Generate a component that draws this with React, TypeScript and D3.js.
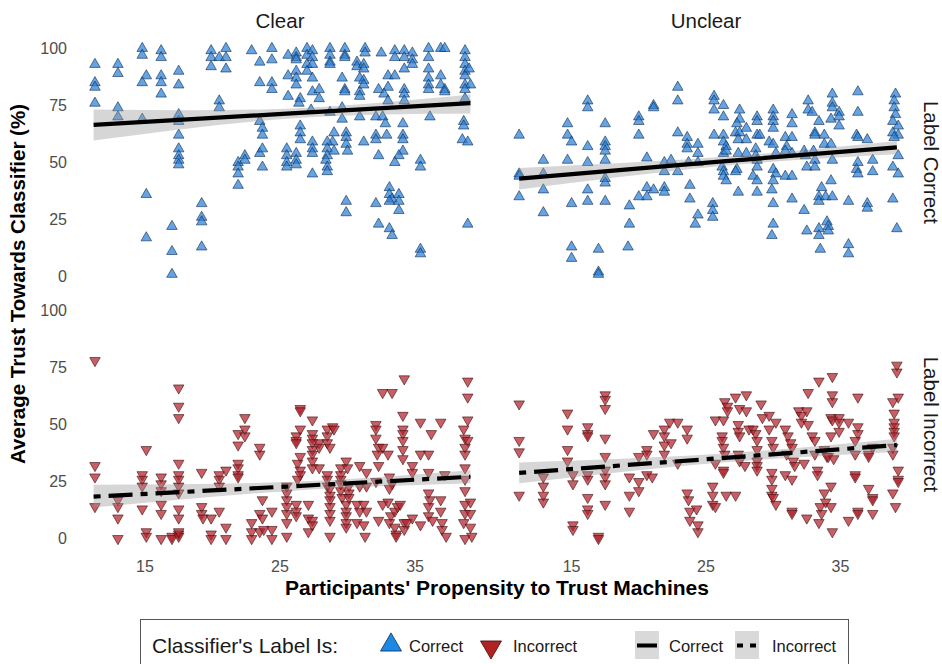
import { useRef, useEffect } from 'react';
import * as d3 from 'd3';

type Pt = [number, number];

// Panel data: [propensity, average trust %]
const clearCorrect: Pt[] = [
  [11.3,93],[11.3,85],[11.3,83],[11.3,76],
  [13.0,93],[13.0,89],[13.0,74],[13.0,70],
  [14.8,100],[14.8,97],[15.1,88],[14.8,85],[14.8,69],[15.1,36],[15.1,17],
  [16.2,99],[16.2,96],[16.2,88],[16.2,85],[16.2,80],
  [17.5,90],[17.5,84],[17.5,71],[17.5,68],[17.5,62],[17.5,56],[17.5,53],[17.5,51],[17.5,49],
  [17.0,22],[17.0,11],[17.0,1],
  [19.2,32],[19.2,26],[19.2,24],[19.2,13],
  [19.9,99],[19.9,96],[19.9,92],
  [20.5,96],[20.5,77],[20.5,74],
  [21.0,100],[21.0,96],[21.0,91],
  [21.9,50],[21.9,48],[21.9,45],[21.9,40],
  [22.4,53],[22.4,51],[22.9,99],
  [23.5,94],[23.5,85],[23.5,68],[23.5,54],
  [23.7,65],[23.7,62],[23.7,56],[23.7,48],
  [24.4,100],[24.4,95],[24.4,85],[24.4,82],
  [25.6,97],[26.2,98],[26.2,96],[26.2,95],[27.0,100],[27.0,97],[27.0,93],[27.4,99],[27.4,96],[27.4,93],
  [28.7,100],[28.7,97],[28.7,94],[28.7,93],
  [29.8,100],[29.8,97],[29.8,96],
  [31.3,100],[31.3,98],[30.7,94],[30.7,92],[31.2,93],[31.2,91],
  [32.5,98],[33.5,99],[33.5,96],
  [34.2,99],[34.2,96],[34.2,91],
  [34.8,98],[34.8,95],[34.8,93],
  [36.0,100],[36.0,96],[36.0,91],
  [36.9,100],[37.2,100],[36.9,88],[36.9,84],
  [36.0,87],[36.0,84],[36.0,82],[37.2,82],[37.2,81],
  [38.7,99],[38.7,96],[38.7,93],[38.7,90],[38.7,88],[38.7,84],[38.7,78],
  [39.0,91],[39.1,84],[38.7,82],
  [25.6,88],[25.6,79],[26.2,90],[26.2,87],[26.2,84],[26.5,78],[26.4,76],
  [27.0,90],[27.4,87],[27.4,81],[27.9,82],[27.9,78],
  [29.6,87],[29.8,82],[29.8,81],
  [30.9,87],[30.9,81],[31.2,86],[31.2,84],[30.9,79],
  [33.0,88],[33.5,88],[33.0,83],[32.3,82],[32.7,80],[33.0,77],
  [34.2,82],[34.2,80],[34.2,77],
  [27.3,73],[28.7,72],[29.6,74],[29.6,69],[30.9,70],[32.1,70],[32.6,70],[32.8,67],[34.1,67],[36.1,70],
  [26.5,66],[26.5,63],[26.5,60],[29.0,63],[28.9,59],
  [29.9,63],[29.9,61],[29.9,58],[30.0,55],[31.2,59],
  [32.1,62],[32.1,60],[32.9,62],[34.1,62],[34.1,60],
  [38.6,68],[38.6,66],[38.5,60],[38.9,59],
  [27.4,59],[27.4,56],[27.4,54],
  [28.5,59],[28.5,56],[28.5,53],[28.4,51],[28.5,48],[28.5,46],[29.0,55],
  [25.5,56],[25.5,53],[25.5,50],[25.5,48],
  [26.2,54],[26.2,51],[26.2,49],[27.4,45],[32.3,53],
  [34.1,55],[33.8,53],[33.5,50],[35.4,51],[35.4,48],
  [29.9,33],[29.9,28],[32.1,32],
  [33.1,39],[33.1,36],[33.3,34],[33.1,33],[33.8,36],[33.8,33],[33.8,29],
  [32.3,23],[33.1,21],[33.3,18],[35.4,12],[35.4,10],[38.9,23],
];

const unclearCorrect: Pt[] = [
  [11.1,62],[11.1,45],[11.1,44],[11.1,35],
  [12.9,51],[12.9,45],[12.9,38],[12.9,28],
  [14.7,67],[14.7,62],[15.0,59],[14.7,51],[15.0,32],[15.0,13],[15.0,8],
  [16.2,77],[16.2,74],[16.2,57],[16.2,50],[16.2,38],[16.2,33],
  [17.0,12],[17.0,2],[17.0,1],
  [17.5,67],[17.5,59],[17.5,57],[17.5,55],[17.5,51],[17.5,43],[17.5,41],[17.5,33],
  [19.3,31],[19.3,23],[19.2,13],
  [20.0,70],[20.0,68],[20.0,62],
  [20.6,52],[20.6,39],[20.6,35],[20.0,35],
  [21.1,75],[21.1,74],[21.1,38],
  [21.9,50],[21.9,46],[21.9,39],[21.9,37],[22.4,51],
  [22.9,83],[22.9,77],[22.9,63],[22.9,46],
  [23.6,61],[23.6,58],[23.6,56],[23.7,50],
  [23.8,40],[23.8,34],[24.2,23],
  [24.4,58],[24.4,54],[24.4,27],[24.4,50],
  [25.6,79],[25.6,77],[25.6,73],[25.6,62],[26.3,75],[26.3,70],[26.3,62],
  [26.3,59],[26.5,57],[26.3,54],[26.5,55],
  [26.2,48],[26.3,46],[26.3,44],[26.5,42],
  [25.5,32],[25.5,29],[25.5,26],[27.4,37],
  [27.5,73],[27.5,69],[27.3,67],
  [27.2,63],[27.5,63],[27.4,60],[28.0,65],[28.0,60],
  [27.4,54],[28.0,54],[27.3,47],[27.2,46],
  [28.8,70],[28.8,68],[28.8,62],[29.0,62],
  [28.7,56],[28.7,53],[28.8,51],[28.8,48],
  [28.5,44],[28.8,42],[28.8,37],
  [30.0,73],[30.0,70],[30.0,68],[30.0,65],
  [29.7,59],[30.0,58],[30.2,54],
  [30.0,47],[30.2,45],[30.0,42],[29.9,38],
  [30.0,32],[30.0,23],[29.9,18],
  [30.9,61],[31.0,57],[31.4,61],[30.9,55],[31.4,54],
  [30.9,44],[31.4,44],[31.4,71],[31.4,67],[31.4,34],
  [32.3,55],[32.4,53],[32.5,48],[32.3,29],[32.5,20],
  [32.6,77],[32.6,73],[32.9,72],
  [33.1,63],[33.1,62],[33.0,55],[33.1,51],[33.1,48],
  [33.4,68],[33.8,62],[33.8,58],[33.6,39],
  [33.4,35],[33.4,33],[33.9,35],[34.4,35],
  [33.4,21],[33.4,18],[33.5,12],
  [34.0,24],[34.1,22],[34.1,20],
  [34.4,80],[34.4,76],[34.4,74],
  [34.3,69],[34.9,72],[34.9,70],[34.9,66],
  [34.3,58],[34.4,51],[34.3,42],
  [35.6,33],[35.6,14],[35.6,10],
  [36.3,81],[36.3,72],
  [36.2,62],[36.3,61],[36.3,50],[36.2,47],[36.3,45],
  [37.0,60],[37.4,51],[37.4,46],[37.0,32],[37.0,30],
  [39.1,80],[39.0,77],[39.0,74],[39.1,71],[38.9,68],[39.3,66],[38.9,63],[39.3,62],[39.0,61],
  [39.3,53],[38.9,48],[39.3,45],[38.9,34],[39.2,21],
];

const clearIncorrect: Pt[] = [
  [11.3,78],[11.3,32],[11.3,27],[11.3,14],
  [13.0,17],[13.0,14],[13.0,9],[13.0,0],
  [15.1,39],[14.8,28],[14.8,26],[14.8,23],[14.8,13],[15.1,3],[15.1,1],
  [16.2,27],[16.2,24],[16.2,21],[16.2,15],[16.2,11],[16.2,0],[17.0,1],[17.0,0],[17.5,2],[17.5,1],
  [17.5,66],[17.5,58],[17.5,53],
  [17.5,33],[17.5,28],[17.5,26],[17.5,23],[17.5,20],[17.5,13],[17.5,9],[17.5,3],
  [19.2,29],[19.2,14],[19.2,11],[19.3,9],
  [19.9,9],[19.9,2],[19.9,0],
  [20.5,28],[20.5,26],[20.5,23],[21.0,30],[20.5,12],[21.0,5],[21.0,0],
  [21.9,46],[22.4,48],[22.4,45],[21.9,41],[22.4,53],
  [21.9,33],[21.9,31],[21.9,28],[21.9,27],
  [23.5,40],[23.5,37],[23.7,17],
  [22.9,7],[22.9,3],[22.9,0],[23.5,11],[23.5,3],[23.7,9],[23.8,4],[24.4,12],[24.4,4],[24.4,0],
  [26.5,57],[26.5,56],[27.4,52],
  [26.2,45],[26.2,43],[26.2,42],[26.5,48],
  [27.4,46],[27.4,44],[27.4,42],[27.9,42],[27.9,40],
  [28.5,48],[28.5,45],[28.9,49],[29.0,48],[28.5,42],[28.7,40],
  [26.5,36],[26.3,33],[26.5,30],[26.5,28],[26.3,26],
  [27.4,39],[27.4,37],[27.4,34],[27.4,31],[27.9,31],
  [28.5,28],[28.5,26],[28.5,23],
  [25.5,23],[25.5,20],[25.5,17],[25.5,14],[25.5,11],[25.5,7],[25.5,1],
  [26.2,15],[26.2,12],[26.2,10],
  [27.1,15],[27.1,9],[27.1,3],[27.4,8],[27.4,6],
  [28.7,22],[28.7,19],[28.7,17],[28.7,14],[28.7,11],[28.7,8],[28.7,1],
  [29.5,31],[29.5,28],[29.5,26],[29.9,34],[30.0,31],
  [29.5,21],[29.6,18],[29.9,15],[29.9,12],[29.9,10],[29.9,7],[29.9,5],
  [29.5,24],[30.1,23],[30.1,20],[30.1,18],
  [30.9,32],[31.4,29],[30.9,23],[31.4,23],
  [30.7,15],[30.9,12],[31.2,15],[31.4,12],[30.7,7],[31.2,6],[31.3,1],
  [32.1,50],[32.1,48],[32.1,44],[32.3,40],[32.6,40],[32.2,37],[33.0,37],[32.3,32],
  [32.6,64],[33.3,64],
  [32.1,25],[33.1,27],[33.3,24],[33.1,22],
  [32.6,15],[33.0,16],[33.2,10],[33.5,12],[33.7,14],[33.9,15],
  [32.3,8],[33.1,7],[33.5,5],[33.6,2],[33.6,1],[34.2,7],[34.2,4],[34.4,7],[34.8,9],
  [34.2,70],[34.1,54],[34.1,48],[34.1,46],[34.1,43],
  [34.1,39],[34.1,35],[34.8,32],[34.8,29],
  [35.4,51],[36.2,46],[35.4,37],[36.0,37],[36.9,51],
  [36.0,29],[36.0,20],[36.1,17],[36.0,14],[36.0,10],[36.3,8],[35.4,6],
  [36.9,17],[36.9,12],[37.0,7],[37.0,4],[37.3,1],[37.2,28],
  [38.9,69],[38.9,62],[38.9,52],[38.6,48],[38.7,44],[38.9,43],[38.7,40],[38.7,37],[38.7,31],
  [38.7,26],[38.7,21],[38.7,15],[38.7,11],[38.6,7],[39.1,16],[39.1,11],[39.1,5],[38.7,0],[39.2,1],
];

const unclearIncorrect: Pt[] = [
  [11.1,59],[11.1,43],[11.1,38],[11.1,19],
  [12.9,27],[12.9,23],[12.9,19],[12.9,16],
  [14.7,55],[14.7,48],[14.7,39],[14.7,34],[15.1,28],[15.1,24],[15.1,6],[15.1,4],
  [16.2,49],[16.2,46],[16.2,45],[16.2,28],[16.2,26],[16.2,18],[16.2,13],[16.2,11],
  [17.0,1],[17.0,0],
  [17.5,63],[17.5,61],[17.5,57],[17.5,44],[17.5,36],[17.5,30],[17.5,27],[17.5,24],[17.5,15],
  [19.3,27],[19.3,19],[19.3,12],
  [20.0,36],[20.0,25],[20.0,21],
  [20.6,39],[20.6,37],[20.6,28],[21.0,27],[21.1,46],
  [21.9,48],[22.3,51],[22.9,51],[21.9,45],[21.9,41],[22.4,42],[21.9,37],
  [23.6,48],[23.6,44],[22.9,33],
  [23.6,20],[23.7,17],[23.8,12],[23.8,8],[24.3,13],[24.4,6],[24.4,3],
  [25.5,23],[25.5,19],[25.5,15],[25.7,14],
  [25.7,52],[26.3,52],[26.2,45],[26.2,43],[26.3,40],[26.4,37],
  [26.4,60],[26.6,58],[26.6,56],[27.2,62],[27.5,57],[28.0,63],
  [25.7,33],[26.3,30],[26.3,29],[26.5,19],[27.2,19],
  [27.4,50],[27.4,47],[27.5,45],[28.0,56],[28.2,48],
  [27.4,37],[27.5,34],[27.9,32],
  [28.5,48],[28.7,46],[28.8,43],[29.2,53],[29.1,59],[29.7,54],
  [28.8,39],[28.8,34],[28.8,32],[28.8,30],
  [29.7,48],[29.9,43],[30.0,40],[30.2,51],
  [29.9,29],[29.9,26],[29.9,22],[29.9,19],[30.0,18],[30.2,15],
  [30.9,48],[31.1,45],[31.3,42],[31.4,40],[31.0,37],[31.5,34],[31.6,32],[32.3,33],
  [30.9,28],[31.4,26],[31.4,12],[31.4,11],
  [31.9,56],[32.1,54],[32.5,56],[32.1,51],[32.6,50],[32.9,45],[33.1,43],
  [32.6,64],[33.4,69],[32.5,9],
  [33.3,30],[33.3,28],[33.8,20],[33.5,14],[33.6,11],[33.4,7],[33.9,16],[34.3,14],
  [33.1,37],[33.8,39],[34.0,36],
  [34.4,71],[34.4,63],[34.4,60],[34.3,53],[34.4,52],[34.9,53],[34.9,51],[34.3,45],
  [34.9,47],[34.1,36],[34.5,35],[34.3,23],[34.4,3],
  [35.6,51],[35.6,8],
  [36.3,62],[36.3,49],[36.3,46],[36.1,43],[36.1,37],[36.1,28],[36.1,27],[36.3,12],[36.3,11],
  [37.1,37],[37.1,36],[37.1,22],[37.4,18],[37.4,17],[37.4,11],[37.4,40],
  [38.9,60],[39.3,62],[39.0,55],[39.0,51],[39.0,49],[39.0,47],[39.0,45],[38.9,37],
  [39.3,30],[39.3,26],[39.3,25],[38.9,20],[39.1,14],[39.2,76],[39.2,73],[38.9,40],
];

// Linear fit: [x, fit, lower, upper]
type Fit = [number, number, number, number];
const fitClearCorrect: Fit[] = [[11.2,66.5,59.6,73.2],[25.5,71.4,69.2,73.6],[39.1,76,71.5,79.8]];
const fitUnclearCorrect: Fit[] = [[11.1,42.9,38.2,47.6],[26,50.4,48.4,52.4],[39.2,56.6,53.6,59.4]];
const fitClearIncorrect: Fit[] = [[11.2,18.4,13.6,23.6],[25.5,22.8,20.8,24.8],[39.1,27.1,24.2,30.0]];
const fitUnclearIncorrect: Fit[] = [[11.1,28.8,24.2,33.4],[26,35.2,33.2,37.2],[39.2,41,38,43.8]];

const xTicks = [15, 25, 35];
const yTicks = [0, 25, 50, 75, 100];
const colLabels = ['Clear', 'Unclear'];
const rowLabels = ['Label Correct', 'Label Incorrect'];

const W = 942;
const H = 664;
const FONT = "'Liberation Sans', Arial, Helvetica, sans-serif";
const BLUE = '#2a80d8';
const RED = '#b3212b';

export default function App() {
  const svgRef = useRef<SVGSVGElement>(null);

  useEffect(() => {
    const svg = d3.select(svgRef.current);
    if (svg.empty()) return;
    svg.selectAll('*').remove();

    const cols = [[72, 488], [499, 913]];
    const rows = [[37, 288], [299, 550]];

    const panels = [
      { c: 0, r: 0, pts: clearCorrect, fit: fitClearCorrect, up: true },
      { c: 1, r: 0, pts: unclearCorrect, fit: fitUnclearCorrect, up: true },
      { c: 0, r: 1, pts: clearIncorrect, fit: fitClearIncorrect, up: false },
      { c: 1, r: 1, pts: unclearIncorrect, fit: fitUnclearIncorrect, up: false },
    ];

    const tri = d3.symbol(d3.symbolTriangle, 48)();

    panels.forEach(p => {
      const x = d3.scaleLinear().domain([9.6, 40.4]).range(cols[p.c]);
      const y = d3.scaleLinear().domain([-5, 105]).range([rows[p.r][1], rows[p.r][0]]);
      const g = svg.append('g');

      // points
      g.selectAll('path.pt')
        .data(p.pts)
        .enter()
        .append('path')
        .attr('class', 'pt')
        .attr('d', tri)
        .attr('transform', d => `translate(${x(d[0])},${y(d[1])})${p.up ? '' : ' rotate(180)'}`)
        .attr('fill', p.up ? BLUE : RED)
        .attr('fill-opacity', 0.72)
        .attr('stroke', p.up ? '#0e2a4d' : '#3d0c0c')
        .attr('stroke-opacity', 0.75)
        .attr('stroke-width', 0.8);

      // confidence band
      const band = d3.area<Fit>()
        .x(d => x(d[0]))
        .y0(d => y(d[2]))
        .y1(d => y(d[3]))
        .curve(d3.curveNatural);
      g.append('path')
        .datum(p.fit)
        .attr('d', band)
        .attr('fill', '#999999')
        .attr('fill-opacity', 0.4);

      const line = d3.line<Fit>().x(d => x(d[0])).y(d => y(d[1]));
      g.append('path')
        .datum(p.fit)
        .attr('d', line)
        .attr('fill', 'none')
        .attr('stroke', '#000')
        .attr('stroke-width', 4.2)
        .attr('stroke-dasharray', p.up ? null : '7,8,24,8');

      // y ticks (left column only)
      if (p.c === 0) {
        g.selectAll('text.yt')
          .data(yTicks)
          .enter()
          .append('text')
          .attr('x', 67)
          .attr('y', d => y(d))
          .attr('dy', '0.36em')
          .attr('text-anchor', 'end')
          .attr('fill', '#4d4d4d')
          .attr('font-size', 16)
          .attr('font-family', FONT)
          .text(d => d);
      }
      // x ticks (bottom row only)
      if (p.r === 1) {
        g.selectAll('text.xt')
          .data(xTicks)
          .enter()
          .append('text')
          .attr('x', d => x(d))
          .attr('y', 572)
          .attr('text-anchor', 'middle')
          .attr('fill', '#4d4d4d')
          .attr('font-size', 16)
          .attr('font-family', FONT)
          .text(d => d);
      }
    });

    // strips
    colLabels.forEach((t, i) => {
      svg.append('text')
        .attr('x', (cols[i][0] + cols[i][1]) / 2)
        .attr('y', 28)
        .attr('text-anchor', 'middle')
        .attr('font-size', 20.5)
        .attr('font-family', FONT)
        .attr('fill', '#1a1a1a')
        .text(t);
    });
    rowLabels.forEach((t, i) => {
      const cy = (rows[i][0] + rows[i][1]) / 2;
      svg.append('text')
        .attr('transform', `translate(924,${cy}) rotate(90)`)
        .attr('text-anchor', 'middle')
        .attr('font-size', 20.5)
        .attr('font-family', FONT)
        .attr('fill', '#1a1a1a')
        .text(t);
    });

    // axis titles
    svg.append('text')
      .attr('transform', 'translate(25,284) rotate(-90)')
      .attr('text-anchor', 'middle')
      .attr('font-size', 20.5)
      .attr('font-weight', 'bold')
      .attr('font-family', FONT)
      .text('Average Trust Towards Classifier (%)');
    svg.append('text')
      .attr('x', 497)
      .attr('y', 595)
      .attr('text-anchor', 'middle')
      .attr('font-size', 21)
      .attr('font-weight', 'bold')
      .attr('font-family', FONT)
      .text("Participants' Propensity to Trust Machines");

    // legend
    const lg = svg.append('g');
    lg.append('rect')
      .attr('x', 140.5).attr('y', 619.5)
      .attr('width', 708).attr('height', 60)
      .attr('fill', '#fff').attr('stroke', '#555').attr('stroke-width', 1);
    lg.append('text')
      .attr('x', 152).attr('y', 653)
      .attr('font-size', 21).attr('font-family', FONT).attr('fill', '#1a1a1a')
      .text("Classifier's Label Is:");
    const bigTri = d3.symbol(d3.symbolTriangle, 190)();
    lg.append('path').attr('d', bigTri)
      .attr('transform', 'translate(391,645)')
      .attr('fill', '#1e88e5').attr('stroke', '#0e2a4d').attr('stroke-width', 0.8);
    lg.append('text').attr('x', 409).attr('y', 652)
      .attr('font-size', 16.5).attr('font-family', FONT).attr('fill', '#1a1a1a').text('Correct');
    lg.append('path').attr('d', bigTri)
      .attr('transform', 'translate(491,647) rotate(180)')
      .attr('fill', '#b22222').attr('stroke', '#3d0c0c').attr('stroke-width', 0.8);
    lg.append('text').attr('x', 513).attr('y', 652)
      .attr('font-size', 16.5).attr('font-family', FONT).attr('fill', '#1a1a1a').text('Incorrect');

    lg.append('rect').attr('x', 635).attr('y', 631).attr('width', 24).attr('height', 28).attr('fill', '#d9d9d9');
    lg.append('line').attr('x1', 637).attr('x2', 657).attr('y1', 645.5).attr('y2', 645.5)
      .attr('stroke', '#000').attr('stroke-width', 4);
    lg.append('text').attr('x', 669).attr('y', 652)
      .attr('font-size', 16.5).attr('font-family', FONT).attr('fill', '#1a1a1a').text('Correct');
    lg.append('rect').attr('x', 735).attr('y', 631).attr('width', 24).attr('height', 28).attr('fill', '#d9d9d9');
    lg.append('line').attr('x1', 737).attr('x2', 757).attr('y1', 645.5).attr('y2', 645.5)
      .attr('stroke', '#000').attr('stroke-width', 4).attr('stroke-dasharray', '6,7');
    lg.append('text').attr('x', 772).attr('y', 652)
      .attr('font-size', 16.5).attr('font-family', FONT).attr('fill', '#1a1a1a').text('Incorrect');
  }, []);

  return (
    <svg
      ref={svgRef}
      width={W}
      height={H}
      viewBox={`0 0 ${W} ${H}`}
      style={{ position: 'absolute', left: 0, top: 0, background: '#fff' }}
    />
  );
}
